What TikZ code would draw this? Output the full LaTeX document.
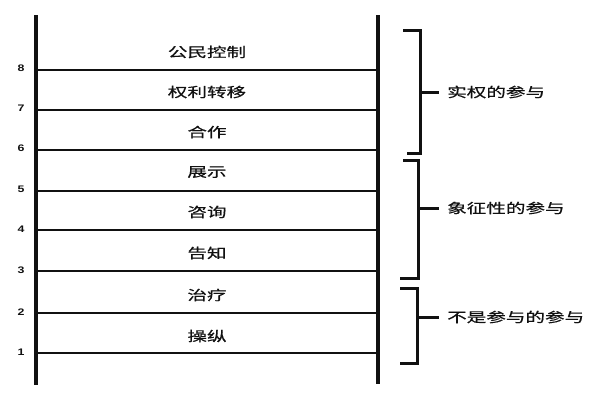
\documentclass[tikz,border=0pt]{standalone}
\usepackage{fontspec}
\usetikzlibrary{calc}
\newfontfamily\cjk[FakeStretch=1.45,FakeBold=0.6]{Noto Sans CJK SC}
\newfontfamily\digitfont[FakeStretch=1.3]{Liberation Sans}
\definecolor{ink}{HTML}{111111}
\newcommand{\rungtext}{\fontsize{13.5}{15}\selectfont\cjk}
\newcommand{\tiertext}{\fontsize{13.5}{15}\selectfont\cjk}
\newcommand{\levelno}{\fontsize{9.5}{10}\selectfont\digitfont\bfseries}

\begin{document}
\begin{tikzpicture}[x=1pt,y=-1pt,
  rail/.style={ink,line width=3.6pt},
  rung/.style={ink,line width=2.8pt},
  brace/.style={ink,line width=3pt},
  rungname/.style={anchor=center,inner sep=0,font=\rungtext,text=ink},
  tiername/.style={anchor=west,inner sep=0,font=\tiertext,text=ink},
  levelnum/.style={anchor=center,inner sep=0,font=\levelno,text=ink}]
\useasboundingbox (0,0) rectangle (600,400);
% ladder rails
\draw[rail] (36,15) -- (36,385);
\draw[rail] (378,15) -- (378,384);
% rungs and level numbers
\draw[rung] (36,70) -- (378,70);
\node[levelnum] (n8) at (21,68) {8};
\draw[rung] (36,110) -- (378,110);
\node[levelnum] (n7) at (21,108) {7};
\draw[rung] (36,150) -- (378,150);
\node[levelnum] (n6) at (21,148) {6};
\draw[rung] (36,191) -- (378,191);
\node[levelnum] (n5) at (21,189) {5};
\draw[rung] (36,230) -- (378,230);
\node[levelnum] (n4) at (21,229) {4};
\draw[rung] (36,271) -- (378,271);
\node[levelnum] (n3) at (21,270) {3};
\draw[rung] (36,313) -- (378,313);
\node[levelnum] (n2) at (21,312) {2};
\draw[rung] (36,353) -- (378,353);
\node[levelnum] (n1) at (21,352) {1};
% rung names
\node[rungname] (control) at (207,52) {公民控制};
\node[rungname] (delegation) at (207,92) {权利转移};
\node[rungname] (partnership) at (207,132) {合作};
\node[rungname] (placation) at (207,172) {展示};
\node[rungname] (consultation) at (207,212) {咨询};
\node[rungname] (informing) at (207,253) {告知};
\node[rungname] (therapy) at (207,295) {治疗};
\node[rungname] (manipulation) at (207,336) {操纵};
% tiers
\draw[brace] (403,30) -- (420,30) -- (420,153) -- (407,153);
\coordinate (b1) at (420,92);
\node[tiername] (power) at (447,92) {实权的参与};
\draw[brace,shorten >=8pt] (b1) -- (power.west);
\draw[brace] (403,160) -- (418,160) -- (418,278) -- (400,278);
\coordinate (b2) at (418,208);
\node[tiername] (token) at (447,208) {象征性的参与};
\draw[brace,shorten >=8pt] (b2) -- (token.west);
\draw[brace] (400,288) -- (417,288) -- (417,363) -- (400,363);
\coordinate (b3) at (417,317);
\node[tiername] (nonpart) at (447,317) {不是参与的参与};
\draw[brace,shorten >=8pt] (b3) -- (nonpart.west);
\end{tikzpicture}
\end{document}
